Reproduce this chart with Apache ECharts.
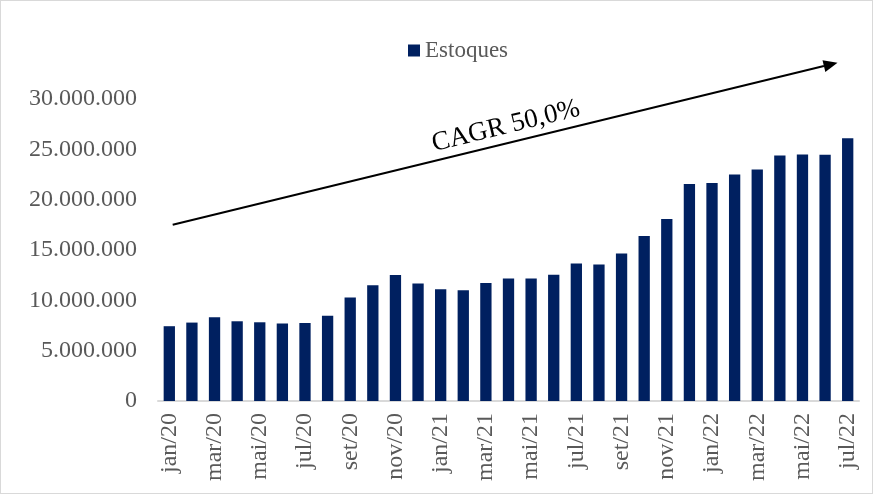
<!DOCTYPE html>
<html><head><meta charset="utf-8">
<script src="https://cdn.jsdelivr.net/npm/echarts@6/dist/echarts.min.js"></script>
<style>html,body{margin:0;padding:0;background:#fff}#c{width:873px;height:494px;box-sizing:border-box;border:1px solid #d9d9d9}</style>
</head><body><div id="c"></div>
<script>
const categories = ['jan/20','fev/20','mar/20','abr/20','mai/20','jun/20','jul/20','ago/20','set/20','out/20','nov/20','dez/20',
 'jan/21','fev/21','mar/21','abr/21','mai/21','jun/21','jul/21','ago/21','set/21','out/21','nov/21','dez/21',
 'jan/22','fev/22','mar/22','abr/22','mai/22','jun/22','jul/22'];
const estoques = [7430000,7790000,8320000,7920000,7820000,7690000,7750000,8480000,10270000,11490000,12510000,11680000,
 11090000,10990000,11710000,12180000,12180000,12540000,13660000,13560000,14650000,16400000,18090000,
 21550000,21650000,22510000,23000000,24390000,24490000,24460000,26110000];
const yTicks = {min:0, max:30000000, interval:5000000};
const cagrLabel = 'CAGR 50,0%';
const arrowStart = {cat:0, value:17500000};
const arrowEnd = {cat:30, value:33600000};

const fmt = v => String(v).replace(/\B(?=(\d{3})+(?!\d))/g, '.');
const chart = echarts.init(document.getElementById('c'));
const serif = '"Liberation Serif", "Times New Roman", serif';
chart.setOption({
  animation:false,
  textStyle:{fontFamily:serif},
  legend:{data:['Estoques'], top:33, left:402, itemWidth:12, itemHeight:12, itemGap:6,
    icon:'rect', textStyle:{fontFamily:serif, fontSize:23, color:'#595959'}},
  grid:{left:157, right:13, top:98, bottom:92},
  xAxis:{type:'category', data:categories, boundaryGap:true,
    axisLine:{lineStyle:{color:'#d9d9d9', width:2}},
    axisTick:{interval:1, length:6, lineStyle:{color:'#d9d9d9', width:1.5}},
    axisLabel:{interval:1, rotate:90, margin:12, fontFamily:serif, fontSize:24, color:'#595959'}},
  yAxis:{type:'value', min:yTicks.min, max:yTicks.max, interval:yTicks.interval,
    splitLine:{show:false}, axisLine:{show:false}, axisTick:{show:false},
    axisLabel:{margin:21, fontFamily:serif, fontSize:24, color:'#595959', formatter:fmt}},
  series:[{name:'Estoques', type:'bar', data:estoques, barWidth:'50%',
    itemStyle:{color:'#002060'}}]
});
const p0 = chart.convertToPixel({xAxisIndex:0, yAxisIndex:0}, [arrowStart.cat, arrowStart.value]);
const p1 = chart.convertToPixel({xAxisIndex:0, yAxisIndex:0}, [arrowEnd.cat, arrowEnd.value]);
const bw = chart.getModel().getComponent('xAxis',0).axis.getBandWidth();
const x0 = p0[0] + bw*0.15, y0 = p0[1];
const x1 = p1[0] - bw*0.45, y1 = p1[1];
const ang = Math.atan2(y1-y0, x1-x0);
const hl = 14, hw = 6;
const bx = x1 - hl*Math.cos(ang), by = y1 - hl*Math.sin(ang);
const mx = (x0+x1)/2, my = (y0+y1)/2;
chart.setOption({graphic:[
  {type:'line', shape:{x1:x0, y1:y0, x2:bx, y2:by}, style:{stroke:'#000', lineWidth:2}},
  {type:'polygon', shape:{points:[[x1,y1],[bx - hw*Math.sin(ang), by + hw*Math.cos(ang)],[bx + hw*Math.sin(ang), by - hw*Math.cos(ang)]]}, style:{fill:'#000'}},
  {type:'text', x:mx + 5 + 18*Math.sin(ang), y:my - 18*Math.cos(ang), rotation:-ang,
    style:{text:cagrLabel, font:'27px "Liberation Serif", serif', fill:'#000', align:'center', verticalAlign:'middle'}}
]});
</script></body></html>
